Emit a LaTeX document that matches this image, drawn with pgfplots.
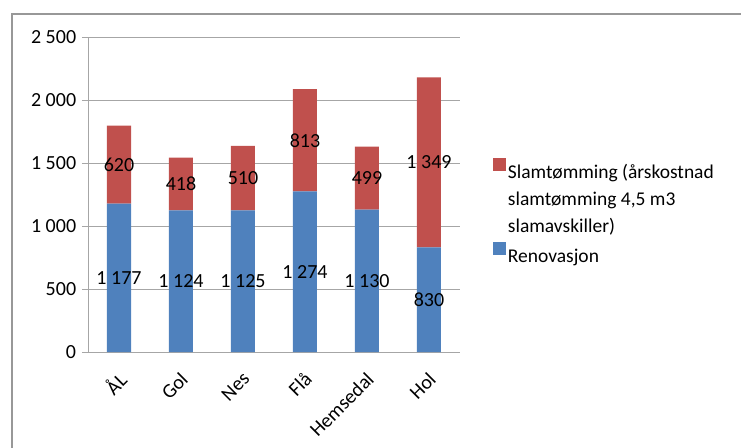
\documentclass[border=0pt]{standalone}
\usepackage{fontspec}
\setmainfont{Carlito}
\usepackage{pgfplots}
\pgfplotsset{compat=1.18}

\definecolor{renblue}{HTML}{4F81BD}
\definecolor{slamred}{HTML}{C0504D}
\definecolor{gridgray}{HTML}{A6A6A6}
\definecolor{framegray}{HTML}{989898}

\newcommand\chartfont{\fontsize{20bp}{27bp}\selectfont}
\pgfplotsset{
  chartbox/.style={
    at={(88bp,-352bp)}, anchor=south west,
    scale only axis, width=372bp, height=315bp,
    xmin=-0.5, xmax=5.5, ymin=0, ymax=2500,
  },
  lowsq/.style={legend image code/.code={\fill[##1] (0bp,1.5bp) rectangle (13bp,14.5bp);}},
  highsq/.style={legend image code/.code={\fill[##1] (0bp,28.5bp) rectangle (13bp,41.5bp);}},
}

\begin{document}
\chartfont
\begin{tikzpicture}
\useasboundingbox (0,0) rectangle (741bp,-448bp);
\draw[framegray, line width=1.5bp] (12bp,-460bp) -- (12bp,-14bp) -- (760bp,-14bp);

\begin{axis}[
  chartbox,
  ybar stacked, bar width=24bp,
  axis x line*=bottom, axis y line*=left,
  axis line style={gridgray, line width=1bp},
  ymajorgrids, major grid style={gridgray, line width=1bp},
  ytick={0,500,1000,1500,2000,2500},
  yticklabels={0, 500, 1 000, 1 500, 2 000, 2 500},
  extra x ticks={-0.5,0.5,1.5,2.5,3.5,4.5,5.5},
  extra x tick labels={},
  extra x tick style={major tick length=6bp, tick style={gridgray, line width=1bp}, grid=none},
  xtick={0,1,2,3,4,5},
  xticklabels={ÅL, Gol, Nes, Flå, Hemsedal, Hol},
  x tick style={draw=none},
  y tick style={gridgray, line width=1bp},
  tick align=outside, major tick length=6bp,
  tick label style={font=\chartfont},
  yticklabel style={anchor=east, xshift=1bp},
  xticklabel style={rotate=45, anchor=east, xshift=-3.5bp, yshift=-15bp},
  reverse legend,
  legend cell align=left,
  legend style={at={(1.08,0.622)}, anchor=north west, draw=none, fill=none,
    font=\fontsize{19.5bp}{27bp}\selectfont, cells={align=left}, row sep=5bp,
    /tikz/every even column/.append style={column sep=4bp}},
]
\addplot[fill=renblue, draw=none, lowsq] coordinates {
  (0,1177) (1,1124) (2,1125) (3,1274) (4,1130) (5,830)
};
\addlegendentry{Renovasjon}
\addplot[fill=slamred, draw=none, highsq] coordinates {
  (0,620) (1,418) (2,510) (3,813) (4,499) (5,1349)
};
\addlegendentry{Slamtømming (årskostnad\\slamtømming 4,5 m3\\slamavskiller)}
\end{axis}

\begin{axis}[
  chartbox, hide axis,
  nodes near coords, point meta=explicit symbolic,
  nodes near coords align=center,
  every node near coord/.append style={text=black, inner sep=0pt, font=\chartfont},
]
\addplot[draw=none, mark=none] coordinates {
  (0,588.5) [1 177] (1,562) [1 124] (2,562.5) [1 125]
  (3,637) [1 274] (4,565) [1 130] (5,415) [830]
};
\addplot[draw=none, mark=none] coordinates {
  (0,1487) [620] (1,1333) [418] (2,1380) [510]
  (3,1680.5) [813] (4,1379.5) [499] (5,1504.5) [1 349]
};
\end{axis}
\end{tikzpicture}
\end{document}
